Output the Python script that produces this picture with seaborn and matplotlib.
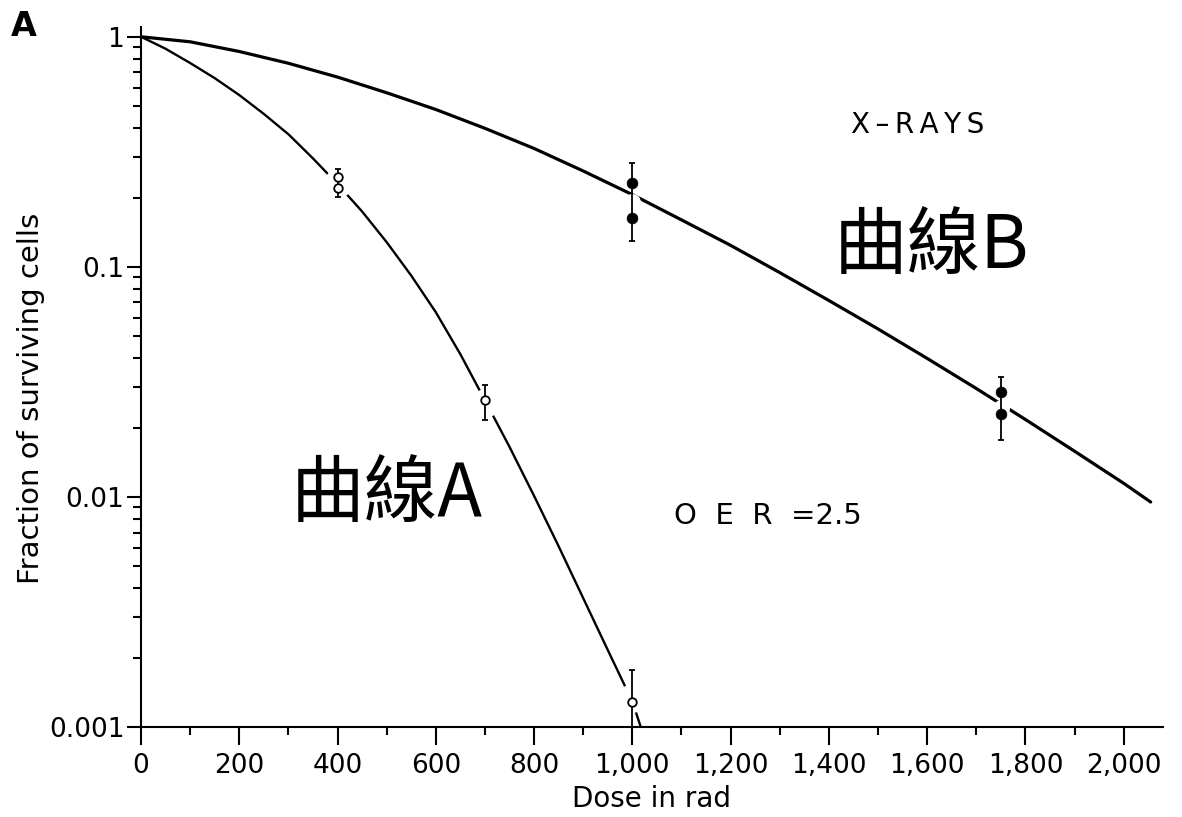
import numpy as np
import matplotlib
matplotlib.use("Agg")
import matplotlib.pyplot as plt
from matplotlib.ticker import FixedLocator, MultipleLocator, NullFormatter, LogLocator
import seaborn as sns

# Curve A (open circles)
curve_a_dose = [0, 50, 100, 150, 200, 250, 300, 350, 400, 450, 500, 550, 600, 650,
                700, 750, 800, 850, 900, 950, 1000, 1022]
curve_a_frac = [1.0, 0.887, 0.769, 0.661, 0.558, 0.462, 0.377, 0.296, 0.229, 0.174,
                0.128, 0.0916, 0.0635, 0.0417, 0.0263, 0.0165, 0.0101, 0.0061,
                0.00363, 0.00216, 0.00129, 0.00093]

# Curve B (x-rays, filled circles)
curve_b_dose = [0, 100, 200, 300, 400, 500, 600, 700, 800, 900, 1000, 1100, 1200,
                1300, 1400, 1500, 1600, 1700, 1800, 1900, 2000, 2055]
curve_b_frac = [1.0, 0.951, 0.863, 0.767, 0.668, 0.571, 0.483, 0.400, 0.327, 0.261,
                0.206, 0.160, 0.124, 0.0944, 0.0714, 0.0537, 0.0400, 0.0296, 0.0217,
                0.0158, 0.01146, 0.0095]

# measured points
a_pt_dose = [400, 400, 700, 1000]
a_pt_frac = [0.245, 0.221, 0.0263, 0.00128]
b_pt_dose = [1000, 1000, 1750, 1750]
b_pt_frac = [0.232, 0.163, 0.0287, 0.0230]

# error bars (low / high)
a_bar_dose = [400, 700, 1000]
a_bar_lo = [0.202, 0.0216, 0.001]
a_bar_hi = [0.266, 0.0306, 0.00177]
b_bar_dose = [1000, 1750]
b_bar_lo = [0.129, 0.0177]
b_bar_hi = [0.282, 0.0333]

x_ticks = [0, 200, 400, 600, 800, 1000, 1200, 1400, 1600, 1800, 2000]
x_ticklabels = ["0", "200", "400", "600", "800", "1,000", "1,200", "1,400", "1,600", "1,800", "2,000"]
y_ticks = [1, 0.1, 0.01, 0.001]
y_ticklabels = ["1", "0.1", "0.01", "0.001"]

sns.set_theme(style="ticks")
plt.rcParams['font.family'] = ['DejaVu Sans', 'Noto Sans CJK TC']

fig = plt.figure(figsize=(11.82, 8.17), dpi=100)
ax = fig.add_axes([0.1193, 0.1102, 0.8646, 0.857])

sns.lineplot(x=curve_b_dose, y=curve_b_frac, ax=ax, color="black", linewidth=2.3,
             sort=False, estimator=None, zorder=2)
sns.lineplot(x=curve_a_dose, y=curve_a_frac, ax=ax, color="black", linewidth=1.7,
             sort=False, estimator=None, zorder=2)

# white halos: the curves break where the data points sit
a_mid = np.sqrt(np.array(a_bar_lo) * np.array(a_bar_hi))
b_mid = np.sqrt(np.array(b_bar_lo) * np.array(b_bar_hi))
ax.scatter(a_bar_dose, a_mid, s=430, color="white", linewidths=0, zorder=2.2)
ax.scatter(b_bar_dose, b_mid, s=150, color="white", linewidths=0, zorder=2.2)

for d, lo, hi in [(a_bar_dose, a_bar_lo, a_bar_hi), (b_bar_dose, b_bar_lo, b_bar_hi)]:
    lo = np.array(lo)
    hi = np.array(hi)
    ax.errorbar(d, lo, yerr=[np.zeros_like(lo), hi - lo], fmt="none", ecolor="black",
                elinewidth=1.3, capsize=2.5, capthick=1.3, zorder=3)

sns.scatterplot(x=a_pt_dose, y=a_pt_frac, ax=ax, marker="o", s=38, facecolor="white",
                edgecolor="black", linewidth=1.3, zorder=4)
sns.scatterplot(x=b_pt_dose, y=b_pt_frac, ax=ax, marker="o", s=60, color="black",
                edgecolor="black", linewidth=0.5, zorder=4)

ax.set_yscale("log")
ax.set_xlim(0, 2080)
ax.set_ylim(0.001, 1.105)

ax.xaxis.set_major_locator(FixedLocator(x_ticks))
ax.set_xticklabels(x_ticklabels)
ax.xaxis.set_minor_locator(MultipleLocator(100))
ax.yaxis.set_major_locator(FixedLocator(y_ticks))
ax.set_yticklabels(y_ticklabels)
ax.yaxis.set_minor_locator(LogLocator(base=10, subs=np.arange(2, 10)))
ax.yaxis.set_minor_formatter(NullFormatter())

sns.despine(ax=ax)
for s in ["left", "bottom"]:
    ax.spines[s].set_linewidth(1.5)
    ax.spines[s].set_color("black")
    ax.spines[s].set_zorder(5)

ax.tick_params(axis="x", which="major", direction="out", length=13, width=1.5,
               pad=6, labelsize=19, colors="black")
ax.tick_params(axis="x", which="minor", direction="out", length=6, width=1.5, colors="black")
ax.tick_params(axis="y", which="major", direction="out", length=10, width=1.5,
               pad=2, labelsize=19, colors="black")
ax.tick_params(axis="y", which="minor", direction="out", length=6, width=1.5, colors="black")

ax.set_xlabel("Dose in rad", fontsize=20, color="black", labelpad=4)
ax.set_ylabel("Fraction of surviving cells", fontsize=21, color="black")
ax.yaxis.set_label_coords(-0.094, 0.47)

ax.text(1580, 0.414, "X\u2009\u2013\u2009R\u2009A\u2009Y\u2009S", fontsize=20,
        ha="center", va="center", color="black")
ax.text(1276, 0.0083, "O  E  R  =2.5", fontsize=21, ha="center", va="center", color="black")
ax.text(1610, 0.122, "曲線B", fontsize=53, ha="center", va="center", color="black",
        family=["Noto Sans CJK TC", "DejaVu Sans"], fontweight="light")
ax.text(500, 0.0102, "曲線A", fontsize=53, ha="center", va="center", color="black",
        family=["Noto Sans CJK TC", "DejaVu Sans"], fontweight="light")
fig.text(0.0203, 0.967, "A", fontsize=24, fontweight="bold", ha="center", va="center",
         color="black")

fig.savefig("out.png", dpi=100, facecolor="white")
